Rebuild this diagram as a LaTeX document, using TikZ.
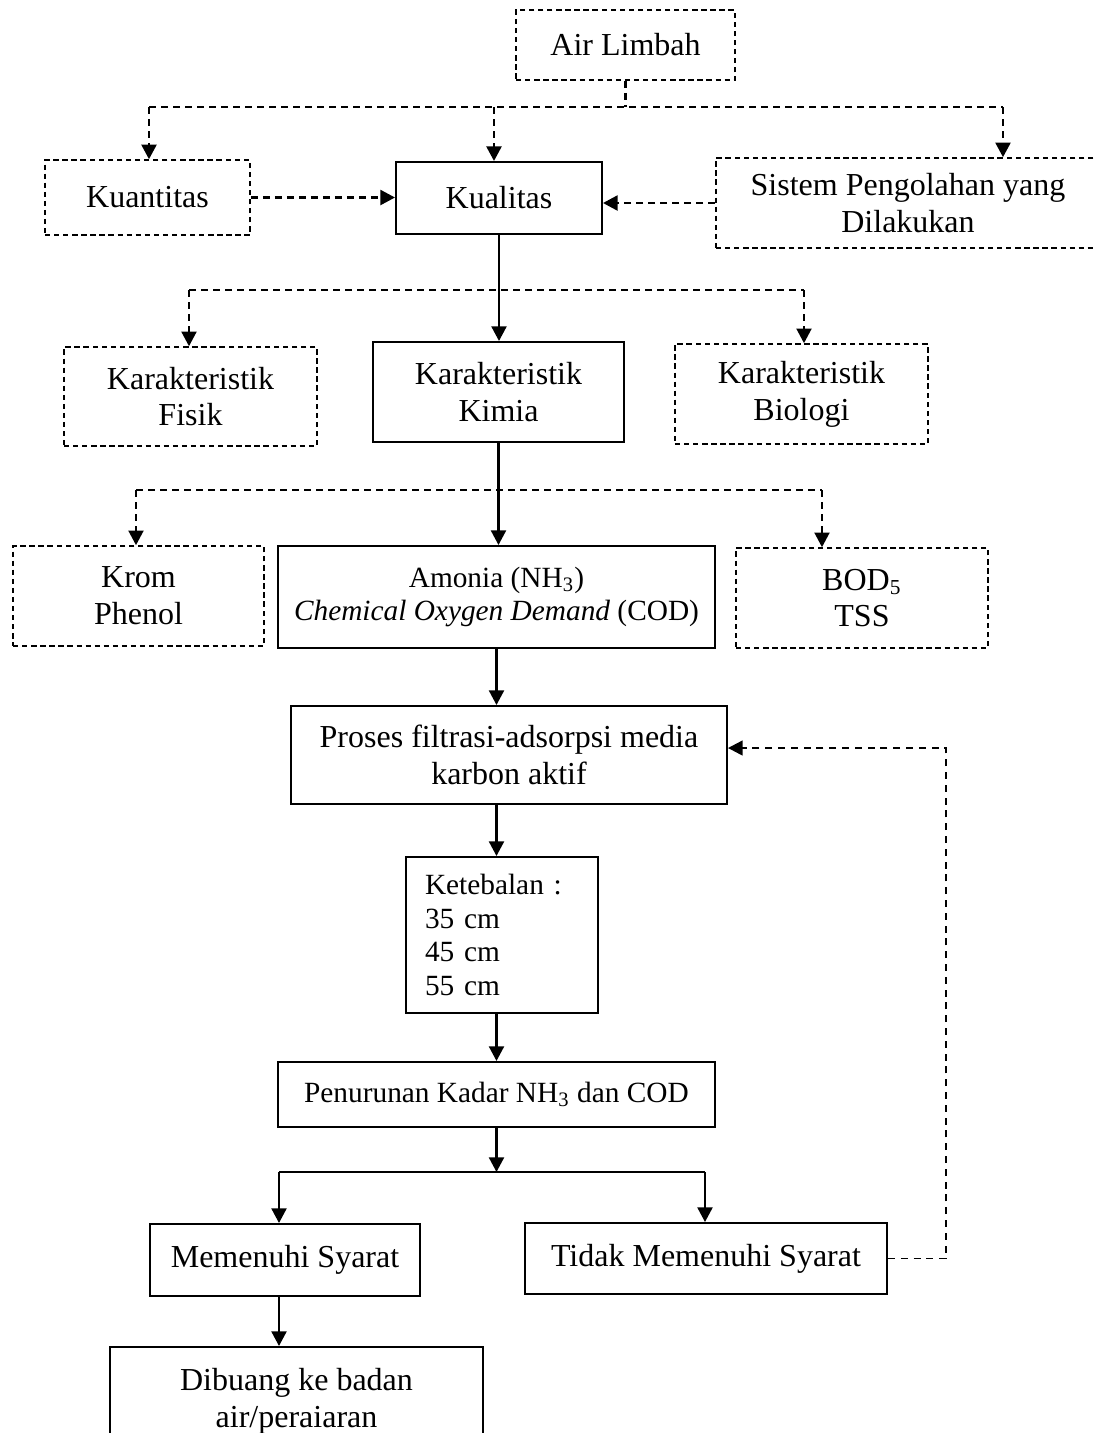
\documentclass[tikz,border=0pt]{standalone}
\usepackage{fontspec}
\setmainfont{Liberation Serif}
\usetikzlibrary{arrows.meta}
\begin{document}
\begin{tikzpicture}[x=0.375pt, y=-0.375pt,
  every node/.style={font=\fontsize{12}{13.8}\selectfont, align=center, inner sep=0pt},
  small/.style={font=\fontsize{11}{12.65}\selectfont},
  sbox/.style={draw, line width=0.75pt},
  dbox/.style={draw, line width=0.6pt, dash pattern=on 2pt off 1.4pt},
  arr/.style={-{Triangle[length=5.5pt,width=5.6pt]}},
  solidc/.style={line width=0.9pt},
  dashtop/.style={line width=1pt, dash pattern=on 2.6pt off 1.9pt},
  dashmid/.style={line width=0.85pt, dash pattern=on 2.6pt off 1.9pt},
  dashfb/.style={line width=0.6pt, dash pattern=on 2.6pt off 2.2pt}]
\useasboundingbox (0,0) rectangle (1096,1433);

% nodes
\node[dbox, minimum width=82.1pt, minimum height=26.25pt] (air) at (625.5,45) {Air Limbah};
\node[dbox, minimum width=76.9pt, minimum height=28.1pt] (kuan) at (147.5,197.5) {Kuantitas};
\node[sbox, minimum width=77.25pt, minimum height=27pt] (kual) at (499,198) {Kualitas};
\node[dbox, minimum width=144pt, minimum height=33.75pt] (sist) at (908,203) {Sistem Pengolahan yang\\Dilakukan};

\node[dbox, minimum width=94.9pt, minimum height=37.1pt] (fisik) at (190.5,396.5) {Karakteristik\\Fisik};
\node[sbox, minimum width=94.1pt, minimum height=37.5pt] (kimia) at (498.5,392) {Karakteristik\\Kimia};
\node[dbox, minimum width=94.9pt, minimum height=37.5pt] (bio) at (801.5,394) {Karakteristik\\Biologi};

\node[dbox, minimum width=94.1pt, minimum height=37.5pt] (krom) at (138.5,596) {Krom\\Phenol};
\node[sbox, small, minimum width=163.9pt, minimum height=38.25pt] (amonia) at (496.5,597) {Amonia (NH\textsubscript{3})\\\textit{Chemical Oxygen Demand} (COD)};
\node[dbox, minimum width=94.5pt, minimum height=37.5pt] (bod) at (862,598) {BOD\textsubscript{5}\\TSS};

\node[sbox, minimum width=163.5pt, minimum height=36.75pt] (proses) at (509,755) {Proses filtrasi-adsorpsi media\\karbon aktif};
\node[sbox, small, text width=57.75pt, align=left, inner xsep=7.125pt, minimum height=58.5pt] (keteb) at (502,935) {Ketebalan :\\35 cm\\45 cm\\55 cm};
\node[sbox, small, minimum width=163.9pt, minimum height=24.4pt] (penur) at (496.5,1094.5) {Penurunan Kadar NH\textsubscript{3} dan COD};
\node[sbox, minimum width=101.25pt, minimum height=27pt] (memen) at (285,1260) {Memenuhi Syarat};
\node[sbox, minimum width=135.75pt, minimum height=26.6pt] (tidak) at (706,1258.5) {Tidak Memenuhi Syarat};
\node[sbox, minimum width=139.9pt, minimum height=40.5pt] (dibuang) at (296.5,1401) {Dibuang ke badan\\air/peraiaran};

% junction coordinates
\coordinate (tl) at (149,107);
\coordinate (tm) at (494,107);
\coordinate (tr) at (1003,107);
\coordinate (ml) at (189,290);
\coordinate (mr) at (804,290);
\coordinate (nl) at (136,490);
\coordinate (nr) at (822,490);
\coordinate (bl) at (279,1172);
\coordinate (bR) at (705,1172);
\coordinate (fb) at (946,748);

% top tier
\draw[dashtop] (air.south) -- (air.south |- tl);
\draw[dashtop] (tl) -- (tr);
\draw[dashtop, arr] (tl) -- (tl |- kuan.north);
\draw[dashtop, arr] (tm) -- (tm |- kual.north);
\draw[dashtop, arr] (tr) -- (tr |- sist.north);
\draw[dashtop, arr] (kuan.east) -- (kuan.east -| kual.west);
\draw[dashtop, arr] (sist.west) -- (sist.west -| kual.east);

% second tier
\draw[solidc, arr] (kual.south) -- (kual.south |- kimia.north);
\draw[dashmid] (ml) -- (mr);
\draw[dashmid, arr] (ml) -- (ml |- fisik.north);
\draw[dashmid, arr] (mr) -- (mr |- bio.north);

% third tier
\draw[solidc, arr] (kimia.south) -- (kimia.south |- amonia.north);
\draw[dashmid] (nl) -- (nr);
\draw[dashmid, arr] (nl) -- (nl |- krom.north);
\draw[dashmid, arr] (nr) -- (nr |- bod.north);

% process chain
\draw[solidc, arr] (amonia.south) -- (amonia.south |- proses.north);
\draw[solidc, arr] (amonia.south |- proses.south) -- (amonia.south |- keteb.north);
\draw[solidc, arr] (penur.north |- keteb.south) -- (penur.north);
\draw[solidc, arr] (penur.south) -- (penur.south |- bl);
\draw[solidc] (bl) -- (bR);
\draw[solidc, arr] (bl) -- (bl |- memen.north);
\draw[solidc, arr] (bR) -- (bR |- tidak.north);
\draw[solidc, arr] (bl |- memen.south) -- (bl |- dibuang.north);

% feedback
\draw[dashfb, arr] (tidak.east) -- (tidak.east -| fb) -- (fb) -- (fb -| proses.east);
\end{tikzpicture}
\end{document}
